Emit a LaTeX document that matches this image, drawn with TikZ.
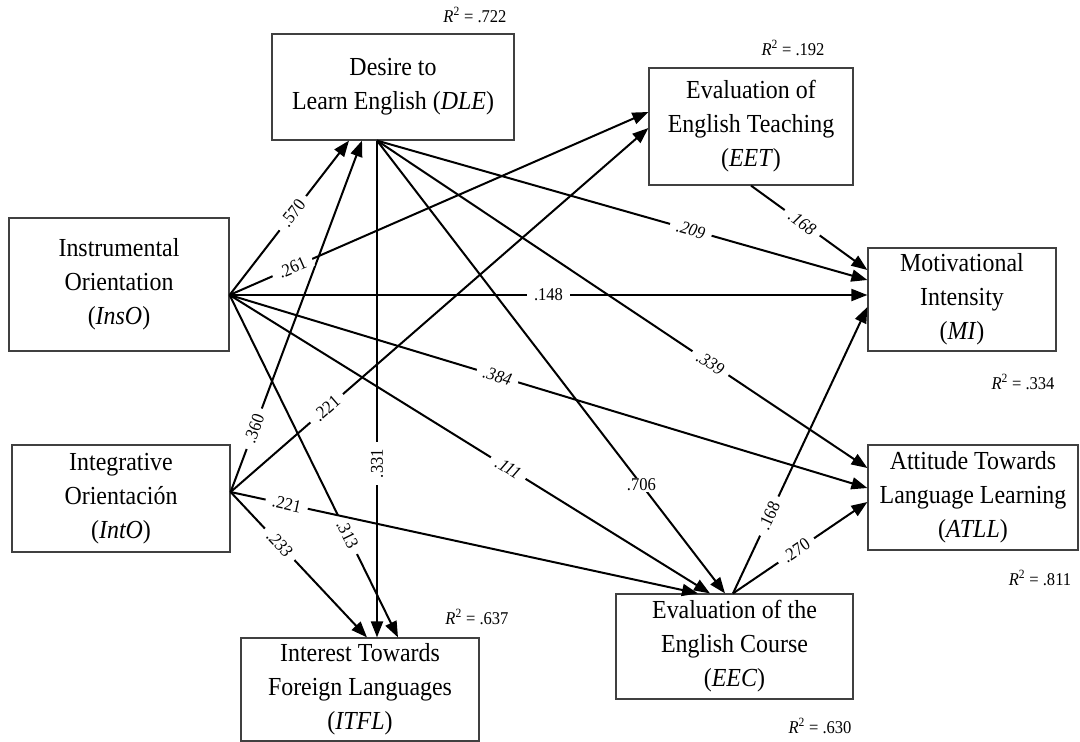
\documentclass[tikz,border=0pt]{standalone}
\usepackage{fontspec}
\setmainfont{Liberation Serif}[FakeStretch=0.92]
\usetikzlibrary{arrows.meta}
\begin{document}
\begin{tikzpicture}[x=1pt,y=-1pt,
  box/.style={draw=black!75, line width=1.2pt, align=center, inner sep=0pt, font=\fontsize{26}{34}\selectfont},
  conn/.style={line width=2pt, -{Triangle[length=16pt,width=12pt]}},
  lab/.style={fill=white, inner xsep=7pt, inner ysep=1pt, font=\fontsize{18}{20}\selectfont},
  rsq/.style={font=\fontsize{18}{20}\selectfont, inner sep=0pt}]
\useasboundingbox[fill=white] (0,0) rectangle (1080,742);

% boxes
\node[box, minimum width=242pt, minimum height=106pt] (dle) at (393,87) {Desire to\\Learn English (\textit{DLE})};
\node[box, minimum width=204pt, minimum height=117pt] (eet) at (751,126.5) {Evaluation of\\English Teaching\\(\textit{EET})};
\node[box, minimum width=220pt, minimum height=133pt] (inso) at (119,284.5) {Instrumental\\Orientation\\(\textit{InsO})};
\node[box, minimum width=218pt, minimum height=107pt] (into) at (121,498.5) {Integrative\\Orientación\\(\textit{IntO})};
\node[box, minimum width=238pt, minimum height=103pt] (itfl) at (360,689.5) {Interest Towards\\Foreign Languages\\(\textit{ITFL})};
\node[box, minimum width=237pt, minimum height=105pt] (eec) at (734.5,646.5) {Evaluation of the\\English Course\\(\textit{EEC})};
\node[box, minimum width=188pt, minimum height=103pt] (mi) at (962,299.5) {Motivational\\Intensity\\(\textit{MI})};
\node[box, minimum width=210pt, minimum height=105pt] (atll) at (973,497.5) {Attitude Towards\\Language Learning\\(\textit{ATLL})};

% R squared
\node[rsq] (r1) at (475,15) {\textit{R}\textsuperscript{2} = .722};
\node[rsq] (r2) at (793,48) {\textit{R}\textsuperscript{2} = .192};
\node[rsq] (r3) at (1023,382) {\textit{R}\textsuperscript{2} = .334};
\node[rsq] (r4) at (1040,578) {\textit{R}\textsuperscript{2} = .811};
\node[rsq] (r5) at (477,617) {\textit{R}\textsuperscript{2} = .637};
\node[rsq] (r6) at (820,726) {\textit{R}\textsuperscript{2} = .630};

% connection points
\coordinate (insOut) at ([yshift=-10.5pt]inso.east);
\coordinate (intOut) at ([yshift=6.5pt]into.east);
\coordinate (dleIn1) at ([xshift=-44pt]dle.south);
\coordinate (dleIn2) at ([xshift=-31pt]dle.south);
\coordinate (dleOut) at ([xshift=-16pt]dle.south);
\coordinate (eetIn1) at ([yshift=14.5pt]eet.west);
\coordinate (eetIn2) at ([yshift=-1.5pt]eet.west);
\coordinate (eetOut) at (eet.south);
\coordinate (miIn1) at ([yshift=29.5pt]mi.west);
\coordinate (miIn2) at ([yshift=19.5pt]mi.west);
\coordinate (miIn3) at ([yshift=4.5pt]mi.west);
\coordinate (miIn4) at ([yshift=-7.5pt]mi.west);
\coordinate (atllIn1) at ([yshift=29.5pt]atll.west);
\coordinate (atllIn2) at ([yshift=9.5pt]atll.west);
\coordinate (atllIn3) at ([yshift=-4.5pt]atll.west);
\coordinate (eecIn1) at ([xshift=-36.5pt]eec.north);
\coordinate (eecIn2) at ([xshift=-24.5pt]eec.north);
\coordinate (eecIn3) at ([xshift=-9.5pt]eec.north);
\coordinate (eecOut) at ([xshift=-1.5pt]eec.north);
\coordinate (itflIn1) at ([xshift=7pt]itfl.north);
\coordinate (itflIn2) at ([xshift=17pt]itfl.north);
\coordinate (itflIn3) at ([xshift=38pt]itfl.north);

% paths
\draw[conn] (insOut) -- node[lab, sloped, pos=.53] {.570} (dleIn1);
\draw[conn] (intOut) -- node[lab, sloped, pos=.18] {.360} (dleIn2);
\draw[conn] (insOut) -- node[lab, sloped, pos=.15] {.261} (eetIn1);
\draw[conn] (intOut) -- node[lab, sloped, pos=.23] {.221} (eetIn2);
\draw[conn] (dleOut) -- node[lab, rotate=90, pos=.65] {.331} (itflIn2);
\draw[conn] (dleOut) -- node[lab, sloped, pos=.64] {\itshape .209} (miIn2);
\draw[conn] (insOut) -- node[lab, pos=.5] {.148} (miIn3);
\draw[conn] (dleOut) -- node[lab, sloped, pos=.68] {\itshape .339} (atllIn1);
\draw[conn] (dleOut) -- node[lab, pos=.76] {.706} (eecIn3);
\draw[conn] (insOut) -- node[lab, sloped, pos=.42] {\itshape .384} (atllIn2);
\draw[conn] (insOut) -- node[lab, sloped, pos=.58] {\itshape .111} (eecIn2);
\draw[conn] (insOut) -- node[lab, sloped, pos=.70] {.313} (itflIn3);
\draw[conn] (intOut) -- node[lab, sloped, pos=.36] {\itshape .233} (itflIn1);
\draw[conn] (intOut) -- node[lab, sloped, pos=.12] {.221} (eecIn1);
\draw[conn] (eetOut) -- node[lab, sloped, pos=.44] {\itshape .168} (miIn1);
\draw[conn] (eecOut) -- node[lab, sloped, pos=.27] {.168} (miIn4);
\draw[conn] (eecOut) -- node[lab, sloped, pos=.47] {.270} (atllIn3);
\end{tikzpicture}
\end{document}
